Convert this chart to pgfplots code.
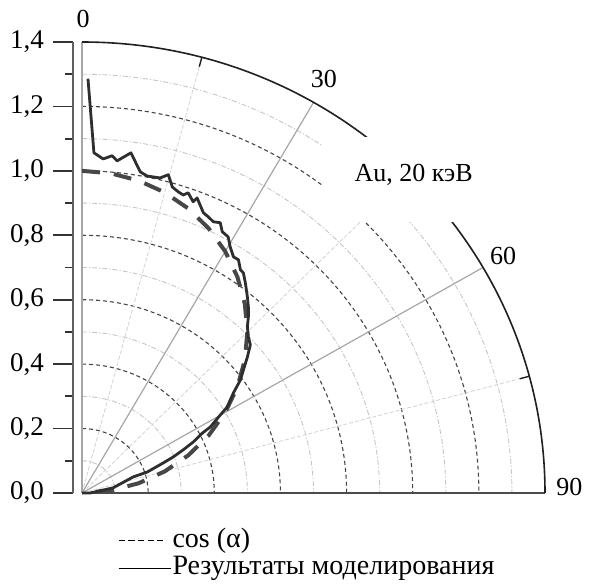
\documentclass[border=0pt]{standalone}
\usepackage{pgfplots}
\pgfplotsset{compat=1.18}
\usepackage{fontspec}
\setmainfont{Liberation Serif}
\begin{document}
\fontsize{13}{15}\selectfont
\begin{tikzpicture}
\begin{axis}[
  name=ax,
  scale only axis, width=236pt, height=225.5pt,
  xmin=-0.0273, xmax=1.4, ymin=0, ymax=1.4,
  axis x line=none, axis y line*=left,
  clip=false,
  ytick={0,0.2,0.4,0.6,0.8,1.0,1.2,1.4}, minor y tick num=1,
  tick align=outside,
  major tick length=10pt, minor tick length=4pt,
  y axis line style={gray!75!black, line width=0.9pt},
  major tick style={gray!40!black, line width=0.9pt},
  minor tick style={gray!40!black, line width=0.9pt},
  yticklabel style={font=\fontsize{13.5}{15}\selectfont, /pgf/number format/.cd, fixed, fixed zerofill, precision=1, use comma, assume math mode=true},
  legend style={draw=none, fill=none, at={(0.082,-0.066)}, anchor=north west, font=\fontsize{14}{16}\selectfont, row sep=0pt, nodes={inner sep=0.6pt, text height=9.5pt, text depth=3pt}},
  legend cell align=left,
]
% minor grid arcs
\pgfplotsinvokeforeach{0.1,0.3,0.5,0.7,0.9,1.1,1.3}{
  \draw[gray!45, line width=0.45pt, dash pattern=on 2.5pt off 1pt on 0.6pt off 1pt] (axis cs:0,#1) arc[start angle=90, end angle=0, x radius=#1*165.35pt, y radius=#1*161.07pt];
}
% major grid arcs
\pgfplotsinvokeforeach{0.2,0.4,0.6,0.8,1.0,1.2}{
  \draw[gray!55!black, line width=0.55pt, dash pattern=on 2pt off 1.5pt] (axis cs:0,#1) arc[start angle=90, end angle=0, x radius=#1*165.35pt, y radius=#1*161.07pt];
}
% radial lines
\draw[gray!35, line width=0.4pt, dash pattern=on 2pt off 1pt] (axis cs:0,0) -- (axis cs:0.3623,1.3523);
\draw[gray!35, line width=0.4pt, dash pattern=on 2pt off 1pt] (axis cs:0,0) -- (axis cs:0.9899,0.9899);
\draw[gray!35, line width=0.4pt, dash pattern=on 2pt off 1pt] (axis cs:0,0) -- (axis cs:1.3523,0.3623);
\draw[gray!70, line width=0.6pt] (axis cs:0,0) -- (axis cs:0.7,1.2124);
\draw[gray!70, line width=0.6pt] (axis cs:0,0) -- (axis cs:1.2124,0.7);
\draw[gray!70, line width=1pt] (axis cs:0,0) -- (axis cs:0,1.4);
\draw[gray!60!black, line width=0.8pt] (axis cs:0,0) -- (axis cs:1.4,0);
% outer arc
\draw[gray!25!black, line width=0.8pt] (axis cs:0,1.4) arc[start angle=90, end angle=0, x radius=1.4*165.35pt, y radius=1.4*161.07pt];
\draw[gray!25!black, line width=0.7pt] (axis cs:0.3623,1.3523) -- (axis cs:0.3546,1.3234);
\draw[gray!25!black, line width=0.7pt] (axis cs:1.3523,0.3623) -- (axis cs:1.3234,0.3546);
% label box
\fill[white] (axis cs:0.727,0.842) rectangle (axis cs:1.13,1.105);
\node at (axis cs:1.003,0.988) {Au, 20 кэВ};
% angle labels
\node[anchor=base, inner sep=0pt] at (axis cs:0.003,1.445) {0};
\node[anchor=base west, inner sep=0pt] at (axis cs:0.691,1.258) {30};
\node[anchor=base west, inner sep=0pt] at (axis cs:1.233,0.708) {60};
\node[anchor=base west, inner sep=0pt] at (axis cs:1.433,-0.009) {90};
% cos(alpha)
\addplot[black!72, line width=2pt, dash pattern=on 9pt off 7pt,
  legend image code/.code={\draw[black, line width=0.5pt, dash pattern=on 3.2pt off 1.6pt] (0pt,0pt) -- (22pt,0pt);}]
coordinates {
(0,1) (0.0868,0.9924) (0.1710,0.9698) (0.25,0.9330) (0.3214,0.8830)
(0.3830,0.8214) (0.4330,0.75) (0.4698,0.6710) (0.4924,0.5868) (0.5,0.5)
(0.4924,0.4132) (0.4698,0.3290) (0.4330,0.25) (0.3830,0.1786) (0.3214,0.1170)
(0.25,0.0670) (0.1710,0.0302) (0.0868,0.0076) (0,0)
};
\addlegendentry{cos (α)}
% simulation
\addplot[black!82, line width=1.4pt, line join=round,
  legend image code/.code={\draw[black, line width=0.6pt] (0pt,0pt) -- (26pt,0pt);}]
coordinates {
(0.018,1.286) (0.036,1.056) (0.064,1.037) (0.091,1.047) (0.106,1.031)
(0.148,1.056) (0.176,0.997) (0.197,0.984) (0.236,0.978) (0.261,0.988)
(0.273,0.950) (0.291,0.935) (0.306,0.925) (0.321,0.932) (0.336,0.904)
(0.348,0.916) (0.367,0.870) (0.382,0.857) (0.397,0.842) (0.418,0.839)
(0.424,0.811) (0.442,0.795) (0.448,0.764) (0.458,0.733) (0.473,0.724)
(0.479,0.693) (0.488,0.683) (0.494,0.652) (0.500,0.609) (0.503,0.578)
(0.503,0.547) (0.500,0.516) (0.503,0.484) (0.509,0.460) (0.500,0.422)
(0.488,0.382) (0.479,0.351) (0.458,0.311) (0.439,0.267) (0.418,0.242)
(0.388,0.205) (0.364,0.186) (0.336,0.158) (0.306,0.134) (0.276,0.112)
(0.245,0.093) (0.197,0.065) (0.155,0.050) (0.094,0.016) (0.024,0.0) (0,0)
};
\addlegendentry{Результаты моделирования}
\end{axis}
\pgfresetboundingbox
\path (ax.south west) ++(-36.5pt,-45.5pt) rectangle ++(295pt,292pt);
\end{tikzpicture}
\end{document}
